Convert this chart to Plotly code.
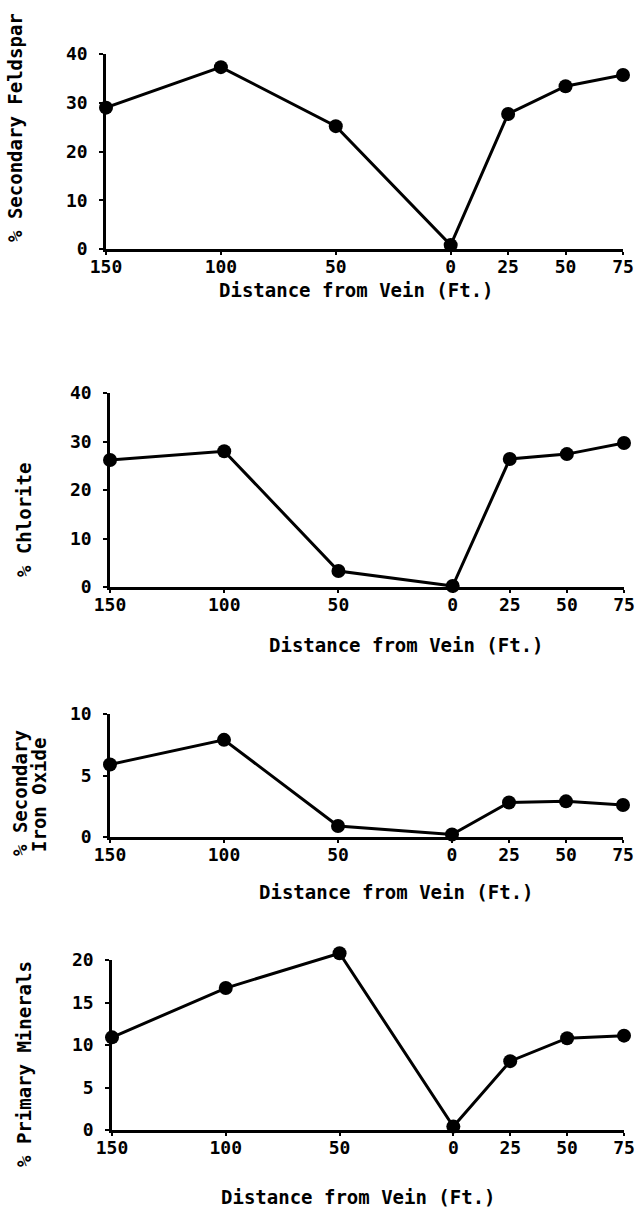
import plotly.graph_objects as go

W, H = 637, 1210

# Distance from vein (ft); left side of vein plotted as negative positions
x_pos = [-150, -100, -50, 0, 25, 50, 75]
x_tickvals = [-150, -100, -50, 0, 25, 50, 75]
x_ticktext = ["150", "100", "50", "0", "25", "50", "75"]

feldspar = [29, 37.3, 25.2, 0.8, 27.7, 33.4, 35.7]
chlorite = [26.2, 28, 3.3, 0.2, 26.4, 27.4, 29.7]
iron_oxide = [5.9, 7.9, 0.9, 0.2, 2.8, 2.9, 2.6]
primary = [10.9, 16.7, 20.8, 0.4, 8.1, 10.8, 11.1]

panels = [
    dict(y=feldspar, yr=[0, 40], yt=[0, 10, 20, 30, 40], px=(106, 623), py=(249, 54),
         ytitles=[("% Secondary Feldspar", 15, 128)], xtx=356, xty=290),
    dict(y=chlorite, yr=[0, 40], yt=[0, 10, 20, 30, 40], px=(110, 624), py=(587, 393),
         ytitles=[("% Chlorite", 24, 520)], xtx=406, xty=645),
    dict(y=iron_oxide, yr=[0, 10], yt=[0, 5, 10], px=(110, 623), py=(837, 714),
         ytitles=[("% Secondary", 20, 793), ("Iron Oxide", 39, 795)], xtx=396, xty=892),
    dict(y=primary, yr=[0, 20], yt=[0, 5, 10, 15, 20], px=(112, 624), py=(1130, 960),
         ytitles=[("% Primary Minerals", 24, 1064)], xtx=358, xty=1197),
]

FONT = "DejaVu Sans Mono"
EXTRA = 20  # px of headroom for the (hidden) data axis so markers above the top tick show
fig = go.Figure()
annotations = []
n = len(panels)
for i, p in enumerate(panels, start=1):
    xa = "x" if i == 1 else f"x{i}"
    ya = "y" if i == 1 else f"y{i}"
    yd = f"y{n + i}"  # hidden data axis with extended domain, same scale
    xkey = "xaxis" if i == 1 else f"xaxis{i}"
    ykey = "yaxis" if i == 1 else f"yaxis{i}"
    ydkey = f"yaxis{n + i}"

    y0px, y1px = p["py"]
    span_px = y0px - y1px
    units_per_px = (p["yr"][1] - p["yr"][0]) / span_px

    # empty trace so the visible axis pair forms a subplot
    fig.add_trace(go.Scatter(x=[None], y=[None], xaxis=xa, yaxis=ya, mode="markers",
                             showlegend=False, hoverinfo="skip"))
    fig.add_trace(go.Scatter(
        x=x_pos, y=p["y"], xaxis=xa, yaxis=yd, mode="lines+markers",
        line=dict(color="black", width=3),
        marker=dict(color="black", size=14),
        cliponaxis=False, showlegend=False,
    ))
    fig.layout[xkey] = dict(
        domain=[p["px"][0] / W, p["px"][1] / W], range=[-150, 75],
        anchor=ya, tickvals=x_tickvals, ticktext=x_ticktext,
        showline=True, linecolor="black", linewidth=2.5,
        ticks="outside", ticklen=3, tickwidth=2, tickcolor="black",
        showgrid=False, zeroline=False, fixedrange=True, automargin=False,
        ticklabelstandoff=-3,
        tickfont=dict(family=FONT, size=18, color="black", weight="bold"),
    )
    fig.layout[ykey] = dict(
        domain=[1 - y0px / H, 1 - y1px / H], range=p["yr"],
        anchor=xa, tickvals=p["yt"],
        showline=True, linecolor="black", linewidth=2.5,
        ticks="outside", ticklen=4, tickwidth=2, tickcolor="black",
        showgrid=False, zeroline=False, fixedrange=True, automargin=False,
        ticklabelstandoff=8,
        tickfont=dict(family=FONT, size=18, color="black", weight="bold"),
    )
    fig.layout[ydkey] = dict(
        domain=[1 - y0px / H, 1 - (y1px - EXTRA) / H],
        range=[p["yr"][0], p["yr"][1] + EXTRA * units_per_px],
        anchor=xa, visible=False, showgrid=False, zeroline=False,
        fixedrange=True, automargin=False,
    )
    for txt, tx, ty in p["ytitles"]:
        annotations.append(dict(
            text=txt, x=tx / W, y=1 - ty / H, xref="paper", yref="paper",
            xanchor="center", yanchor="middle", textangle=-90, showarrow=False,
            font=dict(family=FONT, size=19, color="black", weight="bold"),
        ))
    annotations.append(dict(
        text="Distance from Vein (Ft.)", x=p["xtx"] / W, y=1 - p["xty"] / H,
        xref="paper", yref="paper", xanchor="center", yanchor="middle", showarrow=False,
        font=dict(family=FONT, size=19, color="black", weight="bold"),
    ))

fig.update_layout(
    width=W, height=H, margin=dict(l=0, r=0, t=0, b=0, autoexpand=False),
    paper_bgcolor="white", plot_bgcolor="white",
    annotations=annotations,
)
fig.write_html("out.html")
